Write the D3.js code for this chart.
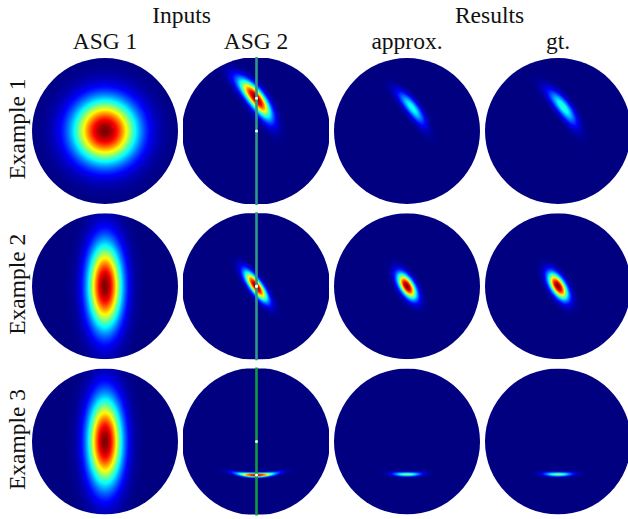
<!DOCTYPE html>
<html>
<head>
<meta charset="utf-8">
<script src="https://cdn.jsdelivr.net/npm/d3@7"></script>
<style>
  html, body { margin: 0; padding: 0; background: #fff; }
  text { font-family: "Liberation Serif", serif; font-size: 23.5px; fill: #111; }
</style>
</head>
<body>
<svg id="chart" width="628" height="519"></svg>
<script>
const examples = ['Example 1', 'Example 2', 'Example 3'];
const columns = ['ASG 1', 'ASG 2', 'approx.', 'gt.'];
const groups = ['Inputs', 'Results'];

// one row per example, one entry per column, disc units (-1..1)
const peakX = [
  [0, 0, 0.07, 0.07],
  [0, 0, 0, 0],
  [0, 0, 0, 0]
];
const peakY = [
  [0, 0.45, 0.32, 0.33],
  [0, 0, 0, 0],
  [0, -0.46, -0.45, -0.45]
];
const spreadLong = [
  [0.3, 0.22, 0.19, 0.2],
  [0.4, 0.165, 0.135, 0.14],
  [0.41, 0.17, 0.13, 0.13]
];
const spreadShort = [
  [0.3, 0.07, 0.055, 0.06],
  [0.16, 0.052, 0.062, 0.064],
  [0.16, 0.02, 0.02, 0.02]
];
const tilt = [
  [0, 38, 38, 38],
  [0, 36, 32, 32],
  [0, 90, 90, 90]
];
const bend = [
  [0, -0.2, -0.2, -0.2],
  [0, 0, 0, 0],
  [0, 0.32, 0.15, 0.15]
];
const peak = [
  [1, 1, 0.4, 0.42],
  [1, 1, 1, 1],
  [1, 1, 0.52, 0.52]
];
const guideColors = ['#2f9a84', '#2f9a84', '#0f9c3c'];

const jetStops = [0, 0.125, 0.375, 0.625, 0.875, 1];
const jetColors = ['#000080', '#0000ff', '#00ffff', '#ffff00', '#ff0000', '#800000'];

const svg = d3.select('#chart');
const radius = 73;

const colX = d3.scalePoint().domain(columns).range([105, 558]);
const rowY = d3.scalePoint().domain(examples).range([131, 441.5]);
const disc = d3.scaleLinear().domain([-1, 1]).range([-radius, radius]);
const jet = d3.scaleLinear().domain(jetStops).range(jetColors).clamp(true);

// build the panel list from the arrays
const panels = [];
examples.forEach((ex, r) => {
  columns.forEach((col, c) => {
    panels.push({
      id: 'p' + r + c, ex, col,
      x: peakX[r][c], y: peakY[r][c],
      long: spreadLong[r][c], short: spreadShort[r][c],
      tilt: tilt[r][c], bend: bend[r][c], peak: peak[r][c]
    });
  });
});

function paintPanel(d) {
  const size = radius * 2;
  const canvas = document.createElement('canvas');
  canvas.width = size;
  canvas.height = size;
  const ctx = canvas.getContext('2d');
  const a = d.tilt * Math.PI / 180;
  const sin = Math.sin(a), cos = Math.cos(a);
  for (let py = 0; py < size; py++) {
    for (let px = 0; px < size; px++) {
      const dx = disc.invert(px + 0.5 - radius) - d.x;
      const dy = disc.invert(py + 0.5 - radius) - (-d.y);
      const u = dx * sin + dy * cos;
      const w = dx * cos - dy * sin - d.bend * u * u;
      const v = d.peak * Math.exp(-0.5 * (u * u / (d.long * d.long) + w * w / (d.short * d.short)));
      ctx.fillStyle = jet(v);
      ctx.fillRect(px, py, 1, 1);
    }
  }
  return canvas.toDataURL();
}

const defs = svg.append('defs');
defs.selectAll('clipPath')
  .data(panels)
  .enter().append('clipPath')
    .attr('id', d => d.id)
  .append('circle')
    .attr('cx', d => colX(d.col))
    .attr('cy', d => rowY(d.ex))
    .attr('r', d => d.col === 'ASG 2' ? radius + 1 : radius);

svg.append('g')
  .selectAll('image')
  .data(panels)
  .enter().append('image')
    .attr('x', d => colX(d.col) - radius)
    .attr('y', d => rowY(d.ex) - radius)
    .attr('width', radius * 2)
    .attr('height', radius * 2)
    .attr('clip-path', d => 'url(#' + d.id + ')')
    .attr('href', paintPanel);

// green guide line and the two white dots in the ASG 2 column
const guides = panels.filter(d => d.col === 'ASG 2');
svg.append('g')
  .selectAll('line')
  .data(guides)
  .enter().append('line')
    .attr('x1', d => colX(d.col) + 0.5)
    .attr('x2', d => colX(d.col) + 0.5)
    .attr('y1', d => rowY(d.ex) - radius - 1)
    .attr('y2', d => rowY(d.ex) + radius + 1)
    .attr('stroke', d => guideColors[examples.indexOf(d.ex)])
    .attr('stroke-width', 2.6);

svg.append('g')
  .selectAll('circle.center')
  .data(guides)
  .enter().append('circle')
    .attr('class', 'center')
    .attr('cx', d => colX(d.col) + 0.5)
    .attr('cy', d => rowY(d.ex))
    .attr('r', 1.5)
    .attr('fill', '#fff');

svg.append('g')
  .selectAll('circle.peak')
  .data(guides)
  .enter().append('circle')
    .attr('class', 'peak')
    .attr('cx', d => colX(d.col) + 0.5 + disc(d.x))
    .attr('cy', d => rowY(d.ex) + disc(-d.y))
    .attr('r', 1.5)
    .attr('fill', '#fff');

// titles
svg.append('g')
  .selectAll('text')
  .data(groups)
  .enter().append('text')
    .attr('x', (d, i) => i === 0 ? (colX('ASG 1') + colX('ASG 2')) / 2 + 1 : (colX('approx.') + colX('gt.')) / 2 + 7)
    .attr('y', 23)
    .attr('text-anchor', 'middle')
    .text(d => d);

svg.append('g')
  .selectAll('text')
  .data(columns)
  .enter().append('text')
    .attr('x', d => colX(d))
    .attr('y', 49)
    .attr('text-anchor', 'middle')
    .text(d => d);

svg.append('g')
  .selectAll('text')
  .data(examples)
  .enter().append('text')
    .attr('transform', d => 'translate(25,' + (rowY(d) - 2) + ') rotate(-90)')
    .attr('text-anchor', 'middle')
    .text(d => d);
</script>
</body>
</html>
